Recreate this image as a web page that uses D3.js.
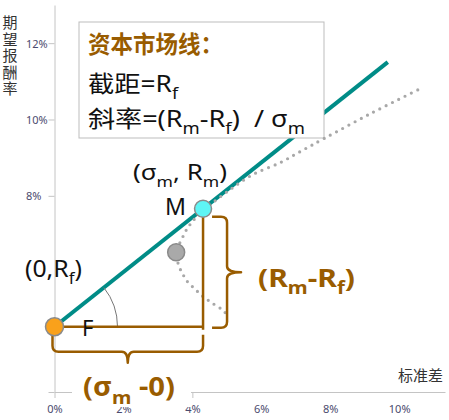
<!DOCTYPE html>
<html><head><meta charset="utf-8">
<script src="https://cdn.jsdelivr.net/npm/d3@7"></script>
<style>
body{margin:0;background:#fff}
svg{display:block}
text{font-family:"Noto Sans","Noto Sans CJK SC",sans-serif;white-space:pre}
</style>
</head><body>
<svg id="c" width="449" height="420"></svg>
<script>
// ---------- data ----------
const xTickValues = [0, 2, 4, 6, 8, 10];
const yTickValues = [8, 10, 12];
const xDomain = [0, 11.33];
const yDomain = [2.86, 13];
const riskFreeRate = 4.57;          // Rf
const marketSigma = 4.31;           // σm
const marketReturn = 7.66;          // Rm
const cmlSigmaEnd = 9.67;
const minVariancePoint = [3.53, 6.52];
const frontierSigma  = [4.95, 4.88, 4.71, 4.56, 4.42, 4.27, 4.13, 3.98, 3.84, 3.74, 3.62, 3.53, 3.69, 3.84, 3.98, 4.31, 4.51, 5.09, 5.76, 6.55, 7.13, 7.82, 9.16, 10.55];
const frontierReturn = [4.94, 5.01, 5.11, 5.20, 5.29, 5.39, 5.51, 5.64, 5.77, 5.92, 6.14, 6.52, 6.86, 7.13, 7.30, 7.65, 7.77, 8.16, 8.56, 8.87, 9.16, 9.50, 10.15, 10.78];
const xAxisTitle = "标准差";
const yAxisTitle = "期望报酬率";
const boxTitle = "资本市场线：";

// ---------- style ----------
const BROWN = "#995c00", TEAL = "#008c87", AXIS = "#c4c4c4", TICKTXT = "#4b4b6e";

const svg = d3.select("#c");
const x = d3.scaleLinear().domain(xDomain).range([54.5, 445]);
const y = d3.scaleLinear().domain(yDomain).range([392, 5]);

function rich(parent, px, py, parts, size, opts = {}) {
  const t = parent.append("text").attr("x", px).attr("y", py)
    .attr("font-size", size).attr("fill", opts.fill || "#111")
    .attr("font-weight", opts.weight || 400);
  let shift = 0;
  parts.forEach(p => {
    const sub = p[1] === "sub";
    const target = sub ? size * 0.3 : 0;
    const ts = t.append("tspan").text(p[0]);
    if (target - shift !== 0) ts.attr("dy", target - shift);
    if (sub) ts.attr("font-size", size * 0.68);
    shift = target;
  });
  if (opts.width) {
    const w = t.node().getBBox().width;
    let s = opts.width / w;
    s = Math.max(0.8, Math.min(1.25, s));
    t.attr("transform", `translate(${px},0) scale(${s},1) translate(${-px},0)`);
  }
  return t;
}

// ---------- axes ----------
const gy = svg.append("g").attr("transform", `translate(${x(0)},0)`)
  .call(d3.axisLeft(y).tickValues([yDomain[0], ...yTickValues]).tickSize(6).tickSizeOuter(0)
    .tickFormat(d => yTickValues.includes(d) ? d + "%" : ""));
gy.select(".domain").attr("stroke", AXIS);
gy.selectAll(".tick line").attr("stroke", AXIS);
gy.selectAll(".tick text").attr("text-anchor", "start").attr("x", 26 - x(0))
  .attr("dy", "0.35em").attr("fill", TICKTXT).attr("font-size", 11)
  .attr("font-family", "'Noto Sans',sans-serif");

const gx = svg.append("g").attr("transform", `translate(0,${y(yDomain[0])})`)
  .call(d3.axisBottom(x).tickValues(xTickValues).tickSize(6).tickSizeOuter(0)
    .tickFormat(d => d + "%"));
gx.select(".domain").attr("stroke", AXIS);
gx.selectAll(".tick line").attr("stroke", AXIS).attr("opacity", d => (d === 0 || d === 4) ? 1 : 0);
gx.selectAll(".tick text").attr("y", 13).attr("dy", "0.71em").attr("fill", TICKTXT)
  .attr("font-size", 11).attr("font-family", "'Noto Sans',sans-serif");

// axis titles
svg.append("text").attr("x", 398).attr("y", 381).attr("font-size", 15).attr("fill", "#333")
  .text(xAxisTitle);
svg.append("text").attr("x", 9.5).attr("y", 15)
  .attr("font-size", 15).attr("fill", "#333")
  .style("writing-mode", "vertical-rl").style("text-orientation", "upright")
  .style("letter-spacing", "1.5px")
  .text(yAxisTitle);

// ---------- capital market line ----------
const slope = (marketReturn - riskFreeRate) / marketSigma;
const cml = [[0, riskFreeRate], [cmlSigmaEnd, riskFreeRate + slope * cmlSigmaEnd]];
svg.append("path").attr("d", d3.line().x(d => x(d[0])).y(d => y(d[1]))(cml))
  .attr("stroke", TEAL).attr("stroke-width", 4).attr("fill", "none");

// ---------- text box ----------
const box = svg.append("g");
box.append("rect").attr("x", 79).attr("y", 22).attr("width", 245).attr("height", 116)
  .attr("fill", "#fff").attr("stroke", "#bdbdbd").attr("stroke-width", 1);
rich(box, 88, 53, [[boxTitle]], 24, { fill: BROWN, weight: 700, width: 135 });
rich(box, 88, 92, [["截距=R"], ["f", "sub"]], 23, { width: 92 });
rich(box, 88, 127, [["斜率=(R"], ["m", "sub"], ["-R"], ["f", "sub"], [")  / σ"], ["m", "sub"]], 23, { width: 217 });

// ---------- efficient frontier (dotted) ----------
const frontier = frontierSigma.map((s, i) => [s, frontierReturn[i]]);
svg.append("path").attr("d", d3.line().x(d => x(d[0])).y(d => y(d[1])).curve(d3.curveCatmullRom)(frontier))
  .attr("fill", "none").attr("stroke", "#a8a8a8").attr("stroke-width", 3.2)
  .attr("stroke-linecap", "round").attr("stroke-dasharray", "0 7");

// ---------- angle arc ----------
const Fx = x(0), Fy = y(riskFreeRate);
const Mx = x(marketSigma), My = y(marketReturn);
const ang = Math.atan2(Fy - y(cml[1][1]), x(cml[1][0]) - Fx);
const r = 63;
svg.append("path")
  .attr("d", `M${Fx + r},${Fy} A${r},${r} 0 0 0 ${Fx + r * Math.cos(ang)},${Fy - r * Math.sin(ang)}`)
  .attr("fill", "none").attr("stroke", "#777").attr("stroke-width", 1);

// ---------- triangle legs ----------
svg.append("path").attr("d", `M${Fx + 8},${Fy} H${Mx} M${Mx},${My} V${Fy + 3}`)
  .attr("stroke", BROWN).attr("stroke-width", 2.5).attr("fill", "none");

// right brace (Rm - Rf)
{
  const bx = Mx + 9, sp = Mx + 24, tip = Mx + 38, top = My + 8, bot = Fy + 1, mid = (top + bot) / 2, c = 6;
  svg.append("path").attr("d",
    `M${bx},${top} H${sp - c} Q${sp},${top} ${sp},${top + c} V${mid - c} Q${sp},${mid} ${tip},${mid} ` +
    `Q${sp},${mid} ${sp},${mid + c} V${bot - c} Q${sp},${bot} ${sp - c},${bot} H${bx}`)
    .attr("stroke", BROWN).attr("stroke-width", 2.5).attr("fill", "none").attr("stroke-linejoin", "round");
}
// bottom brace (σm - 0)
{
  const lx = Fx - 2, rx = Mx, top = Fy + 8, sp = Fy + 25, tip = Fy + 36, mid = (lx + rx) / 2, c = 6;
  svg.append("path").attr("d",
    `M${lx},${top} V${sp - c} Q${lx},${sp} ${lx + c},${sp} H${mid - c} Q${mid},${sp} ${mid},${tip} ` +
    `Q${mid},${sp} ${mid + c},${sp} H${rx - c} Q${rx},${sp} ${rx},${sp - c} V${top}`)
    .attr("stroke", BROWN).attr("stroke-width", 2.5).attr("fill", "none").attr("stroke-linejoin", "round");
}

// label (σm -0) with white background
svg.append("rect").attr("x", 72).attr("y", 372).attr("width", 119).attr("height", 35).attr("fill", "#fff");
rich(svg, 83, 396, [["(σ"], ["m", "sub"], [" -0)"]], 26, { fill: BROWN, weight: 700, width: 92 });
rich(svg, 258, 287, [["(R"], ["m", "sub"], ["-R"], ["f", "sub"], [")"]], 25, { fill: BROWN, weight: 700, width: 97 });

// ---------- points ----------
svg.append("circle").attr("cx", x(minVariancePoint[0])).attr("cy", y(minVariancePoint[1])).attr("r", 8.5)
  .attr("fill", "#a9a9a9").attr("stroke", "#8a8a8a").attr("stroke-width", 1.5);
svg.append("circle").attr("cx", Fx).attr("cy", Fy).attr("r", 9)
  .attr("fill", "#f9a11b").attr("stroke", "#8a8a8a").attr("stroke-width", 1.5);
svg.append("circle").attr("cx", Mx).attr("cy", My).attr("r", 8.5)
  .attr("fill", "#5ef5f5").attr("stroke", "#8a8a8a").attr("stroke-width", 1.5);

// ---------- point labels ----------
rich(svg, 25, 277, [["(0,R"], ["f", "sub"], [")"]], 23, { width: 57 });
rich(svg, 133, 180, [["(σ"], ["m", "sub"], [", R"], ["m", "sub"], [")"]], 22, { width: 94 });
rich(svg, 165, 215, [["M"]], 23, { width: 21 });
rich(svg, 82, 336, [["F"]], 22);
</script>
</body></html>
